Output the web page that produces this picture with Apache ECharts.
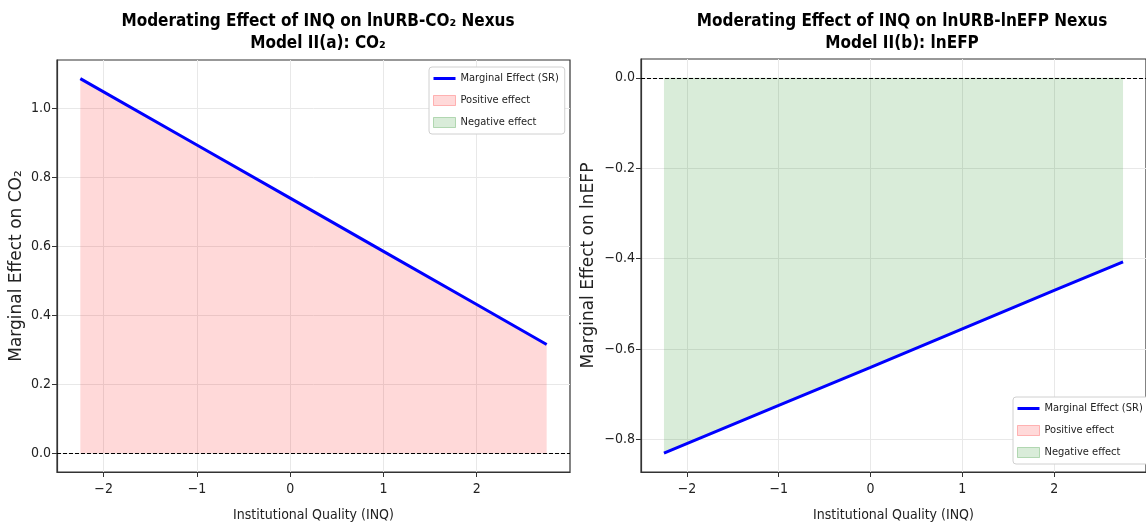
<!DOCTYPE html>
<html>
<head>
<meta charset="utf-8">
<script src="https://cdn.jsdelivr.net/npm/echarts@6/dist/echarts.min.js"></script>
<style>
  html, body { margin: 0; padding: 0; background: #fff; }
  #main { width: 1146px; height: 527px; }
</style>
</head>
<body>
<div id="main"></div>
<script>
// values
const inq = [-2.25, -1, 0, 1, 2, 2.75];
const effectCO2 = [1.085, 0.893, 0.739, 0.585, 0.431, 0.315];
const effectEFP = [-0.830, -0.724, -0.640, -0.555, -0.470, -0.407];
const xTicks = [-2, -1, 0, 1, 2];
const yTicksCO2 = [0, 0.2, 0.4, 0.6, 0.8, 1.0];
const yTicksEFP = [-0.8, -0.6, -0.4, -0.2, 0];
const legendNames = ['Marginal Effect (SR)', 'Positive effect', 'Negative effect'];

const narrow = '"DejaVu Sans Condensed", "Liberation Sans Narrow", "DejaVu Sans", sans-serif';
const wide = '"DejaVu Sans", sans-serif';
const minus = s => String(s).replace('-', '\u2212');

const pairs = (xs, ys) => xs.map((x, i) => [x, ys[i]]);

function xAxisFor(gridIndex) {
  return {
    type: 'value', gridIndex, min: -2.5, max: 3.0,
    name: 'Institutional Quality (INQ)', nameLocation: 'middle', nameGap: 36,
    nameTextStyle: { fontFamily: narrow, fontSize: 14, color: '#222' },
    axisLine: { show: true, onZero: false, lineStyle: { color: '#333', width: 1.2 } },
    axisTick: { show: true, length: 5, customValues: xTicks, lineStyle: { color: '#333' } },
    axisLabel: { customValues: xTicks, fontFamily: narrow, fontSize: 14, color: '#222', margin: 10,
      formatter: v => minus(v) },
    splitLine: { show: true, lineStyle: { color: '#e8e8e8', width: 1 } }
  };
}

function yAxisFor(gridIndex, min, max, ticks, name, gap) {
  return {
    type: 'value', gridIndex, min, max,
    name, nameLocation: 'middle', nameGap: gap,
    nameTextStyle: { fontFamily: wide, fontSize: 17, color: '#222' },
    axisLine: { show: true, onZero: false, lineStyle: { color: '#333', width: 1.2 } },
    axisTick: { show: true, length: 5, customValues: ticks, lineStyle: { color: '#333' } },
    axisLabel: { customValues: ticks, fontFamily: narrow, fontSize: 14, color: '#222', margin: 6,
      formatter: v => minus(v.toFixed(1)) },
    splitLine: { show: true, lineStyle: { color: '#e8e8e8', width: 1 } }
  };
}

function legendFor(left, top) {
  return {
    orient: 'vertical', left, top,
    backgroundColor: '#fff', borderColor: '#d0d0d0', borderWidth: 1, borderRadius: 3,
    padding: [6, 6, 6, 4], itemGap: 11, itemWidth: 22, itemHeight: 10,
    textStyle: { fontFamily: narrow, fontSize: 11, color: '#222' },
    selectedMode: false,
    data: [
      { name: legendNames[0], icon: 'path://M0,0H22V3H0Z', itemStyle: { color: '#0000ff' } },
      { name: legendNames[1], icon: 'rect',
        itemStyle: { color: 'rgba(255,0,0,0.15)', borderColor: 'rgba(255,0,0,0.25)', borderWidth: 1 } },
      { name: legendNames[2], icon: 'rect',
        itemStyle: { color: 'rgba(0,128,0,0.15)', borderColor: 'rgba(0,128,0,0.25)', borderWidth: 1 } }
    ]
  };
}

const zeroLine = {
  silent: true, symbol: 'none', label: { show: false },
  lineStyle: { color: '#000', type: [4, 2], width: 1 },
  data: [{ yAxis: 0 }]
};

const chart = echarts.init(document.getElementById('main'), null, { renderer: 'canvas' });

const option = {
  backgroundColor: '#fff',
  animation: false,
  title: [
    { text: 'Moderating Effect of INQ on lnURB-CO\u2082 Nexus\nModel II(a): CO\u2082',
      left: 313, top: 6, textAlign: 'center',
      textStyle: { fontFamily: narrow, fontSize: 17, fontWeight: 'bold', color: '#000', lineHeight: 22 } },
    { text: 'Moderating Effect of INQ on lnURB-lnEFP Nexus\nModel II(b): lnEFP',
      left: 897, top: 6, textAlign: 'center',
      textStyle: { fontFamily: narrow, fontSize: 17, fontWeight: 'bold', color: '#000', lineHeight: 22 } }
  ],
  grid: [
    { left: 57, top: 60, width: 513, height: 413, show: true, borderColor: '#333', borderWidth: 1.2, backgroundColor: 'transparent' },
    { left: 641, top: 59, width: 512, height: 414, show: true, borderColor: '#333', borderWidth: 1.2, backgroundColor: 'transparent' }
  ],
  legend: [legendFor(429, 67), legendFor(1013, 397)],
  xAxis: [xAxisFor(0), xAxisFor(1)],
  yAxis: [
    yAxisFor(0, -0.054, 1.139, yTicksCO2, 'Marginal Effect on CO\u2082', 32),
    yAxisFor(1, -0.8715, 0.0415, yTicksEFP, 'Marginal Effect on lnEFP', 44)
  ],
  series: [
    // left panel
    { name: legendNames[1], type: 'line', xAxisIndex: 0, yAxisIndex: 0, data: pairs(inq, effectCO2),
      symbol: 'none', lineStyle: { width: 0 }, itemStyle: { color: 'rgba(255,0,0,0.15)' },
      areaStyle: { color: 'rgba(255,0,0,0.15)', origin: 0, opacity: 1 }, z: 1, markLine: zeroLine },
    { name: legendNames[2], type: 'line', xAxisIndex: 0, yAxisIndex: 0, data: [],
      itemStyle: { color: 'rgba(0,128,0,0.15)' } },
    { name: legendNames[0], type: 'line', xAxisIndex: 0, yAxisIndex: 0, data: pairs(inq, effectCO2),
      symbol: 'none', lineStyle: { color: '#0000ff', width: 3 }, itemStyle: { color: '#0000ff' }, z: 3 },
    // right panel
    { name: legendNames[2], type: 'line', xAxisIndex: 1, yAxisIndex: 1, data: pairs(inq, effectEFP),
      symbol: 'none', lineStyle: { width: 0 }, itemStyle: { color: 'rgba(0,128,0,0.15)' },
      areaStyle: { color: 'rgba(0,128,0,0.15)', origin: 0, opacity: 1 }, z: 1, markLine: zeroLine },
    { name: legendNames[1], type: 'line', xAxisIndex: 1, yAxisIndex: 1, data: [],
      itemStyle: { color: 'rgba(255,0,0,0.15)' } },
    { name: legendNames[0], type: 'line', xAxisIndex: 1, yAxisIndex: 1, data: pairs(inq, effectEFP),
      symbol: 'none', lineStyle: { color: '#0000ff', width: 3 }, itemStyle: { color: '#0000ff' }, z: 3 }
  ]
};

chart.setOption(option);
</script>
</body>
</html>
